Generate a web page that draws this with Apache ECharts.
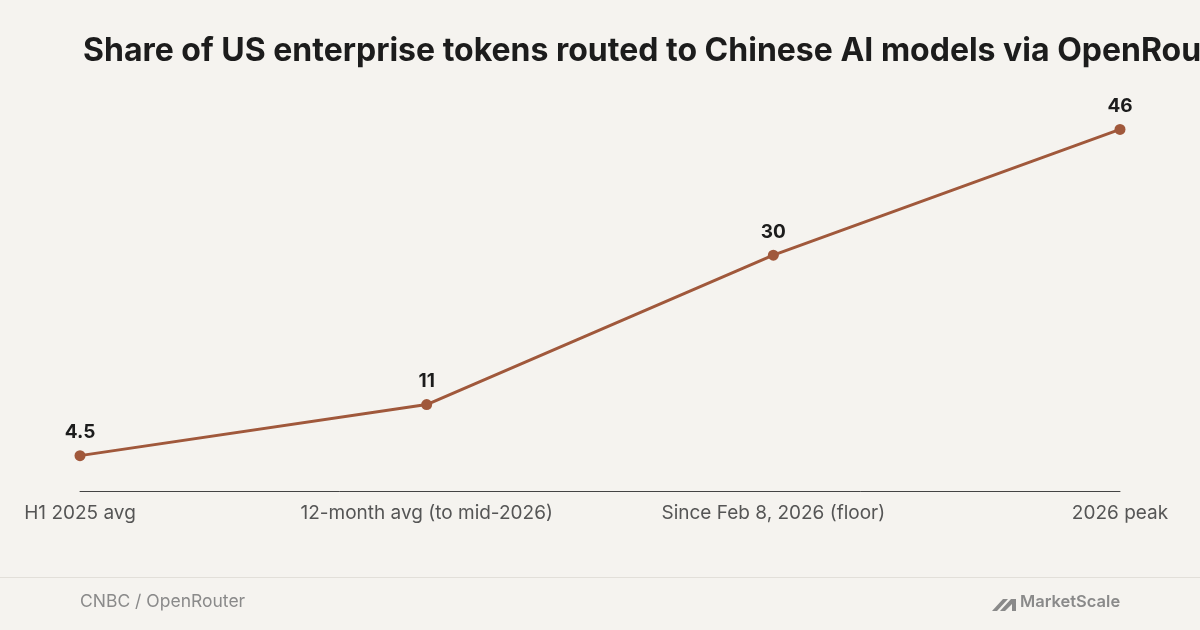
<!DOCTYPE html>
<html>
<head>
<meta charset="utf-8">
<script src="https://cdn.jsdelivr.net/npm/echarts@6/dist/echarts.min.js"></script>
<style>
html,body{margin:0;padding:0;background:#f5f3ef;overflow:hidden;}
#chart{width:1200px;height:630px;}
</style>
</head>
<body>
<div id="chart"></div>
<script>
var categories = ['H1 2025 avg', '12-month avg (to mid-2026)', 'Since Feb 8, 2026 (floor)', '2026 peak'];
var shareValues = [4.5, 11, 30, 46];

var myChart = echarts.init(document.getElementById('chart'));
myChart.setOption({
    backgroundColor: '#f5f3ef',
    animation: false,
    title: {
        text: 'Share of US enterprise tokens routed to Chinese AI models via OpenRouter (%)',
        left: 78,
        top: 30,
        textStyle: { fontFamily: 'Inter', fontSize: 32, fontWeight: 'bold', color: '#1c1c1c' }
    },
    grid: { left: 80, right: 80, top: 98, bottom: 139 },
    xAxis: {
        type: 'category',
        data: categories,
        boundaryGap: false,
        axisLine: { lineStyle: { color: '#444', width: 1 } },
        axisTick: { show: false },
        axisLabel: {
            color: '#555', fontFamily: 'Inter', fontSize: 19, margin: 13,
            alignMinLabel: 'center', alignMaxLabel: 'center'
        }
    },
    yAxis: {
        type: 'value', min: 0, max: 50, show: false,
        splitLine: { show: false }
    },
    series: [{
        type: 'line',
        data: shareValues,
        symbol: 'circle',
        symbolSize: 11,
        lineStyle: { color: '#a0583b', width: 3 },
        itemStyle: { color: '#a0583b' },
        label: {
            show: true, position: 'top', distance: 8,
            fontFamily: 'Inter', fontSize: 19, fontWeight: 'bold', color: '#1c1c1c'
        }
    }],
    graphic: [
        { type: 'rect', shape: { x: 0, y: 577, width: 1200, height: 1 }, style: { fill: '#e2dfd9' } },
        { type: 'text', left: 80, top: 593, style: { text: 'CNBC / OpenRouter', fill: '#8a8a8a', font: '17.5px Inter' } },
        { type: 'text', left: 1020, top: 594, style: { text: 'MarketScale', fill: '#8a8a8a', font: '600 16.5px Inter' } },
        { type: 'polygon', shape: { points: [[992,611],[1003,599],[1008,599],[997,611]] }, style: { fill: '#8a8a8a' } },
        { type: 'polygon', shape: { points: [[1000,611],[1011,599],[1016,599],[1016,611],[1012,611],[1012,604],[1005,611]] }, style: { fill: '#8a8a8a' } }
    ]
});
</script>
</body>
</html>
